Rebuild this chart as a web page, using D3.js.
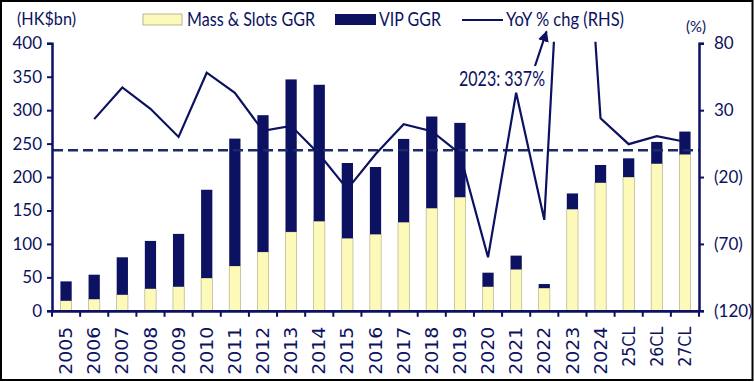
<!DOCTYPE html>
<html>
<head>
<meta charset="utf-8">
<script src="https://cdn.jsdelivr.net/npm/d3@7"></script>
<style>
  html, body { margin: 0; padding: 0; background: #fff; }
  svg { display: block; }
  text { font-family: Lato, "Open Sans", sans-serif; fill: #0c1161; }
</style>
</head>
<body>
<svg id="chart" width="754" height="382"></svg>
<script>
// ---- data ----
const categories = ["2005","2006","2007","2008","2009","2010","2011","2012","2013","2014",
  "2015","2016","2017","2018","2019","2020","2021","2022","2023","2024","25CL","26CL","27CL"];
const massSlots = [15, 17.5, 24, 33, 36, 49, 67, 88, 118, 134, 108.5, 114.5, 132.5, 153.5, 170,
  36, 62, 34, 152, 191.5, 200, 220, 234];
const vip = [29, 36.5, 56, 71.5, 79, 132, 190.5, 204.5, 228, 204, 112.5, 100.5, 124.5, 137, 111,
  21, 20.5, 6, 23.5, 26.5, 28, 32.5, 34];
const yoy = [null, 23.3, 47, 31, 10, 58, 43, 14.5, 18.3, -3, -29, -3, 19.5, 14.3, -2.5,
  -80, 43, -52, 337, 24, 4.6, 10.6, 6.4];
const leftTicks = [0, 50, 100, 150, 200, 250, 300, 350, 400];
const rightTicks = [80, 30, -20, -70, -120];
const legendLabels = ["Mass & Slots GGR", "VIP GGR", "YoY % chg (RHS)"];
const annotation = "2023: 337%";

// ---- layout ----
const navy = "#0c1161";
const yellow = "#fdfab9";
const L = 52, R = 699, T = 43.3, B = 310.8;
const svg = d3.select("#chart");

svg.append("rect").attr("x", 1).attr("y", 1).attr("width", 751.5).attr("height", 379)
  .attr("fill", "#fff").attr("stroke", "#000").attr("stroke-width", 2);

const x = d3.scaleBand().domain(categories).range([L, R]).paddingInner(0.6).paddingOuter(0.3);
const yL = d3.scaleLinear().domain([0, 400]).range([B, T]);
const yR = d3.scaleLinear().domain([-120, 80]).range([B, T]);

// stacked bars
const rows = categories.map((c, i) => ({cat: c, mass: massSlots[i], vip: vip[i]}));
const stack = d3.stack().keys(["mass", "vip"])(rows);
const fills = {mass: yellow, vip: navy};
svg.append("g").selectAll("g").data(stack).join("g")
  .attr("fill", d => fills[d.key])
  .attr("stroke", d => d.key === "mass" ? "#a7a582" : "none")
  .attr("stroke-width", 0.6)
  .selectAll("rect").data(d => d).join("rect")
  .attr("x", d => x(d.data.cat))
  .attr("width", x.bandwidth())
  .attr("y", d => yL(d[1]))
  .attr("height", d => yL(d[0]) - yL(d[1]));

// zero line (RHS) dashed
svg.append("line")
  .attr("x1", L + 1).attr("x2", R)
  .attr("y1", yR(0)).attr("y2", yR(0))
  .attr("stroke", "#1b2a6b").attr("stroke-width", 2.4).attr("stroke-dasharray", "10,5");

// YoY line, clipped to plot
svg.append("clipPath").attr("id", "plotclip").append("rect")
  .attr("x", L).attr("y", T - 1.5).attr("width", R - L).attr("height", B - T + 1.5);
const line = d3.line()
  .defined(d => d[1] !== null)
  .x(d => x(d[0]) + x.bandwidth() / 2)
  .y(d => yR(d[1]));
svg.append("path")
  .datum(categories.map((c, i) => [c, yoy[i]]))
  .attr("clip-path", "url(#plotclip)")
  .attr("d", line)
  .attr("fill", "none").attr("stroke", navy).attr("stroke-width", 2.2)
  .attr("stroke-linejoin", "miter");

// axes
const axL = svg.append("g").attr("transform", `translate(${L},0)`)
  .call(d3.axisLeft(yL).tickValues(leftTicks).tickSize(5).tickPadding(5));
axL.select(".domain").attr("stroke", navy).attr("stroke-width", 2.5);
axL.selectAll(".tick line").attr("stroke", navy).attr("stroke-width", 2);
axL.selectAll(".tick text").attr("font-size", 17).attr("fill", navy)
  .style("font-family", "Lato, sans-serif");

const axR = svg.append("g").attr("transform", `translate(${R},0)`)
  .call(d3.axisRight(yR).tickValues(rightTicks).tickSize(5).tickPadding(10)
    .tickFormat(v => v < 0 ? `(${-v})` : `${v}`));
axR.select(".domain").attr("stroke", navy).attr("stroke-width", 2.5);
axR.selectAll(".tick line").attr("stroke", navy).attr("stroke-width", 2);
axR.selectAll(".tick text").attr("font-size", 17).attr("fill", navy)
  .style("font-family", "Lato, sans-serif");

const axB = svg.append("g").attr("transform", `translate(0,${B})`)
  .call(d3.axisBottom(x).tickSize(0).tickPadding(0));
axB.select(".domain").attr("stroke", navy).attr("stroke-width", 2.7);
axB.selectAll(".tick text")
  .attr("transform", "rotate(-90)")
  .attr("x", -16).attr("y", 0).attr("dy", "0.36em")
  .attr("text-anchor", "end")
  .attr("font-size", 17).attr("fill", navy)
  .style("font-family", "'DejaVu Sans', Verdana, sans-serif")
  .attr("textLength", d => /CL/.test(d) ? 40 : 48)
  .attr("lengthAdjust", "spacingAndGlyphs");
// boundary ticks on the category axis
const gap = x.step() - x.bandwidth();
const bounds = categories.map(c => x(c) - gap / 2).concat([x(categories[categories.length - 1]) + x.bandwidth() + gap / 2]);
svg.append("g").selectAll("line").data(bounds).join("line")
  .attr("x1", d => d).attr("x2", d => d)
  .attr("y1", B).attr("y2", B + 6)
  .attr("stroke", navy).attr("stroke-width", 2);

// axis titles
svg.append("text").attr("x", 17).attr("y", 25).attr("font-size", 17)
  .attr("textLength", 59).attr("lengthAdjust", "spacingAndGlyphs").text("(HK$bn)");
svg.append("text").attr("x", 686).attr("y", 32).attr("font-size", 16)
  .attr("textLength", 20).attr("lengthAdjust", "spacingAndGlyphs").text("(%)");

// legend
svg.append("rect").attr("x", 143).attr("y", 14).attr("width", 39).attr("height", 11)
  .attr("fill", yellow).attr("stroke", "#a7a582").attr("stroke-width", 0.8);
svg.append("text").attr("x", 187).attr("y", 26).attr("font-size", 18.5)
  .attr("textLength", 128).attr("lengthAdjust", "spacingAndGlyphs").text(legendLabels[0]);
svg.append("rect").attr("x", 335).attr("y", 14).attr("width", 41).attr("height", 11)
  .attr("fill", navy);
svg.append("text").attr("x", 379).attr("y", 26).attr("font-size", 18.5)
  .attr("textLength", 62).attr("lengthAdjust", "spacingAndGlyphs").text(legendLabels[1]);
svg.append("line").attr("x1", 462).attr("x2", 503).attr("y1", 20).attr("y2", 20)
  .attr("stroke", navy).attr("stroke-width", 2.2);
svg.append("text").attr("x", 506).attr("y", 26).attr("font-size", 18.5)
  .attr("textLength", 118).attr("lengthAdjust", "spacingAndGlyphs").text(legendLabels[2]);

// annotation
svg.append("defs").append("marker").attr("id", "arrow")
  .attr("viewBox", "0 0 10 10").attr("refX", 9).attr("refY", 5)
  .attr("markerWidth", 5).attr("markerHeight", 5).attr("markerUnits", "strokeWidth")
  .attr("orient", "auto")
  .append("path").attr("d", "M0,0 L10,5 L0,10 Z").attr("fill", navy);
svg.append("line").attr("x1", 535).attr("y1", 66).attr("x2", 546.5).attr("y2", 31.5)
  .attr("stroke", navy).attr("stroke-width", 2.2).attr("marker-end", "url(#arrow)");
svg.append("text").attr("x", 459).attr("y", 86).attr("font-size", 20.5)
  .attr("textLength", 86).attr("lengthAdjust", "spacingAndGlyphs").text(annotation);
</script>
</body>
</html>
